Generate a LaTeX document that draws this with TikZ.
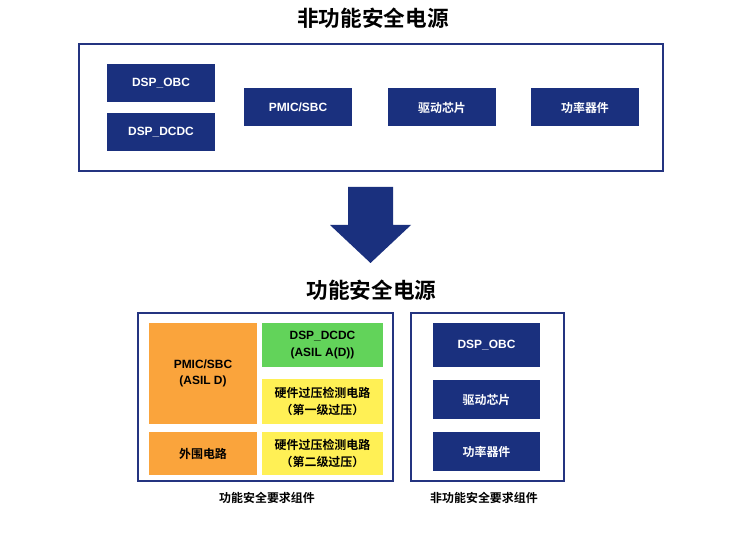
\documentclass[tikz,border=0pt]{standalone}
\usepackage{fontspec}
\setmainfont{Liberation Sans}
\newfontfamily\cjk{Noto Sans CJK SC}[BoldFont={Noto Sans CJK SC Bold}]
\definecolor{dblue}{RGB}{26,48,126}
\definecolor{frameblue}{RGB}{36,52,128}
\definecolor{orangebox}{RGB}{250,164,60}
\definecolor{greenbox}{RGB}{98,211,90}
\definecolor{yellowbox}{RGB}{255,240,85}
\begin{document}
\begin{tikzpicture}[x=1bp,y=-1bp,
  box/.style={draw=none, inner sep=0pt, align=center, font=\bfseries\fontsize{12}{16.5}\selectfont},
  bluebox/.style={box, fill=dblue, text=white},
  orbox/.style={box, fill=orangebox, text=black},
  grbox/.style={box, fill=greenbox, text=black},
  yebox/.style={box, fill=yellowbox, text=black},
  frame/.style={draw=frameblue, line width=1.5bp, fill=white, inner sep=0pt},
  title/.style={inner sep=0pt, font=\cjk\bfseries\fontsize{21.7}{24}\selectfont},
  caption/.style={inner sep=0pt, font=\cjk\bfseries\fontsize{12}{14}\selectfont},
  sz/.style 2 args={minimum width=#1bp, minimum height=#2bp}
]
\useasboundingbox[fill=white] (0,0) rectangle (741,556);
% top
\node[title] (t1) at (373,18) {非功能安全电源};
\node[frame, sz={584}{127}] (topframe) at (371,107.5) {};
\node[bluebox, sz={108}{38}] (obc1) at (161,83.5) {DSP\_OBC};
\node[bluebox, sz={108}{38}] (dcdc1) at (161,132) {DSP\_DCDC};
\node[bluebox, sz={108}{38}] (pmic1) at (298,107.5) {PMIC/SBC};
\node[bluebox, sz={108}{38}] (drv1) at (442,107.5) {\cjk 驱动芯片};
\node[bluebox, sz={108}{38}] (pwr1) at (585,107.5) {\cjk 功率器件};
% arrow
\fill[dblue] (348,187) -- (393,187) -- (393,225) -- (411,225) -- (370.5,263)
  -- (330,225) -- (348,225) -- cycle;
% bottom
\node[title] (t2) at (371.5,290) {功能安全电源};
\node[frame, sz={255}{168}] (lframe) at (265.5,397) {};
\node[frame, sz={153}{168}] (rframe) at (487.5,397) {};
\node[orbox, sz={108}{101}] (pmic2) at (203,373.5) {PMIC/SBC\\(ASIL D)};
\node[orbox, sz={108}{43}] (periph) at (203,453.5) {\cjk 外围电路};
\node[grbox, sz={121}{44}] (dcdc2) at (322.5,345) {DSP\_DCDC\\(ASIL A(D))};
\node[yebox, sz={121}{45}] (ov1) at (322.5,401.5) {\cjk 硬件过压检测电路\\\cjk （第一级过压）};
\node[yebox, sz={121}{43}] (ov2) at (322.5,453.5) {\cjk 硬件过压检测电路\\\cjk （第二级过压）};
\node[bluebox, sz={107}{44}] (obc2) at (486.5,345) {DSP\_OBC};
\node[bluebox, sz={107}{39}] (drv2) at (486.5,399.5) {\cjk 驱动芯片};
\node[bluebox, sz={107}{39}] (pwr2) at (486.5,451.5) {\cjk 功率器件};
\node[caption] (cap1) at (267,498) {功能安全要求组件};
\node[caption] (cap2) at (484,498) {非功能安全要求组件};
\end{tikzpicture}
\end{document}
